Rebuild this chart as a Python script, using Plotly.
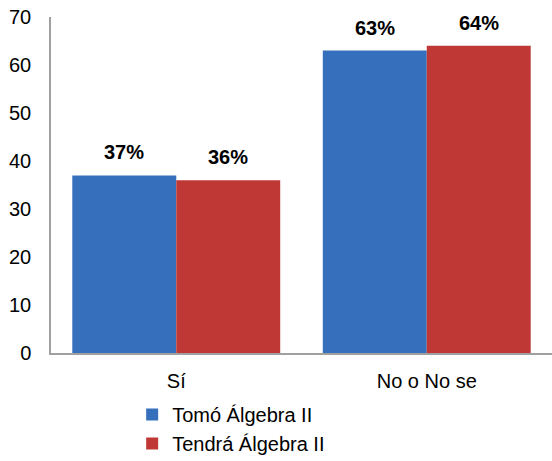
import plotly.graph_objects as go

categories = ["Sí", "No o No se"]
series_names = ["Tomó Álgebra II", "Tendrá Álgebra II"]
tomo = [37, 63]
tendra = [36, 64]
colors = ["#3670bd", "#c03835"]
y_ticks = [0, 10, 20, 30, 40, 50, 60, 70]

FONT = "Liberation Sans, Arial"
fig = go.Figure()
for name, vals, col in zip(series_names, [tomo, tendra], colors):
    fig.add_trace(go.Bar(
        x=categories, y=vals, name=name,
        marker=dict(color=col, line=dict(width=0)),
    ))

bargap = 0.17
half = (1 - bargap) / 4
for k, vals in enumerate([tomo, tendra]):
    off = -half if k == 0 else half
    for i, v in enumerate(vals):
        fig.add_annotation(x=i + off, y=v, xref="x", yref="y",
                           text=f"<b>{v}%</b>", showarrow=False,
                           yanchor="bottom", yshift=10,
                           font=dict(family=FONT, size=20, color="black"))

fig.update_layout(
    width=552, height=461,
    margin=dict(l=51, r=0, t=17, b=108, autoexpand=False),
    paper_bgcolor="white", plot_bgcolor="white",
    barmode="group", bargap=bargap, bargroupgap=0,
    font=dict(family=FONT, size=20, color="black"),
    showlegend=True,
    legend=dict(x=0.162, y=-0.125, xanchor="left", yanchor="top",
                font=dict(size=20), bgcolor="rgba(0,0,0,0)",
                tracegroupgap=0),
    xaxis=dict(showline=True, linecolor="#a0a0a0", linewidth=1.5,
               ticks="", showgrid=False, ticklabelstandoff=9,
               tickfont=dict(size=20), automargin=False),
    yaxis=dict(range=[0, 70], tickvals=y_ticks, showline=True,
               linecolor="#a0a0a0", linewidth=1.5, showgrid=False,
               ticks="", zeroline=False, ticklabelstandoff=14,
               ticklabeloverflow="allow", automargin=False,
               tickfont=dict(size=20)),
)
fig.write_html("out.html", config={"displayModeBar": False},
               post_script="document.body.style.margin='0';document.body.style.overflow='hidden';")
